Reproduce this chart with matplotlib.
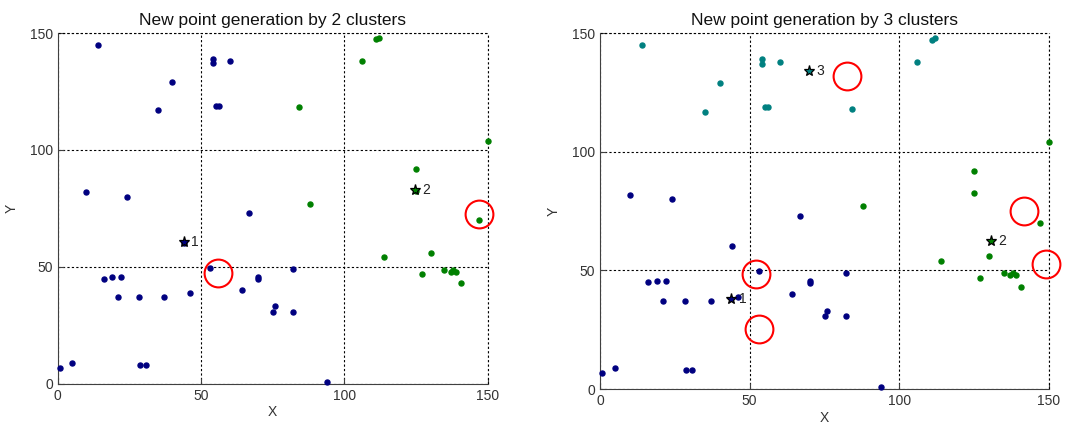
import numpy as np
from matplotlib import pyplot as plt

plt.rcParams['font.family'] = ['Liberation Sans', 'DejaVu Sans']

# point coordinates (same set in both panels)
px = [14, 40, 35, 54, 54, 60, 55.2, 56.2, 10, 24, 66.8,
      111, 112, 106, 84.2, 150, 125, 88, 125, 147,
      44, 53, 16, 19, 22, 21, 28.3, 37, 46.2, 64.3, 70, 70, 82.1,
      75.2, 75.8, 82.1, 0.8, 4.9, 28.8, 30.9, 93.9,
      113.8, 130.1, 127, 134.9, 137.1, 137.9, 139.1, 140.8]
py = [145, 129, 117, 139, 137, 138, 119, 119, 82, 80, 73,
      147.3, 148, 138, 118.2, 104, 92, 77, 82.5, 70,
      60.3, 49.7, 45, 45.7, 45.7, 37, 37, 37, 38.6, 40.1, 45.6, 44.9, 48.9,
      30.8, 33.1, 30.8, 6.7, 8.9, 8, 8, 0.9,
      54, 55.9, 47, 48.8, 47.9, 48.8, 47.9, 43.2]

# cluster labels
labels_k2 = [1]*11 + [2]*9 + [1]*21 + [2]*8
labels_k3 = [3]*8 + [1]*3 + [3]*4 + [2]*5 + [1]*21 + [2]*8

# cluster centres
cent_k2_x = [44, 124.5]
cent_k2_y = [60.5, 83]
cent_k3_x = [43.8, 130.5, 69.7]
cent_k3_y = [38.1, 62.6, 134.1]

# generated new points (red circles)
new_k2_x = [55.9, 147.1]
new_k2_y = [47.3, 72.7]
new_k3_x = [82.5, 141.5, 52, 53.2, 148.9]
new_k3_y = [132, 75, 48.6, 25.4, 52.6]

ticks = [0, 50, 100, 150]
colors = {1: '#000080', 2: '#008000', 3: '#008080'}

fig = plt.figure(figsize=(10.67, 4.25), dpi=100)
ax1 = fig.add_axes([0.0541, 0.0972, 0.403, 0.825])
ax2 = fig.add_axes([0.5623, 0.0847, 0.4208, 0.837])


def draw_panel(ax, labels, cx, cy, nx, ny, k):
    X = np.array(px)
    Y = np.array(py)
    lab = np.array(labels)
    for c in range(1, k+1):
        m = lab == c
        ax.plot(X[m], Y[m], 'o', color=colors[c], markersize=3.6, zorder=3, clip_on=False)
    for i in range(k):
        ax.plot(cx[i], cy[i], '*', markerfacecolor=colors[i+1], markeredgecolor='black',
                markersize=8, markeredgewidth=0.9, zorder=4)
        ax.text(cx[i] + 2.5, cy[i], str(i+1), fontsize=10, va='center', ha='left',
                color='#222222', zorder=4)
    ax.plot(nx, ny, 'o', markerfacecolor='none', markeredgecolor='red',
            markersize=20, markeredgewidth=1.5, clip_on=False, zorder=5)

    ax.set_xlim(ticks[0], ticks[-1])
    ax.set_ylim(ticks[0], ticks[-1])
    ax.set_xticks(ticks)
    ax.set_yticks(ticks)
    ax.grid(True, linestyle=(0, (2, 2)), color='black', linewidth=0.8)
    # outer grid lines at the limits (MATLAB style, box off)
    ax.axhline(ticks[-1], linestyle=(0, (2, 2)), color='black', linewidth=0.8, clip_on=False)
    ax.axvline(ticks[-1], linestyle=(0, (2, 2)), color='black', linewidth=0.8, clip_on=False)
    ax.spines['top'].set_visible(False)
    ax.spines['right'].set_visible(False)
    ax.spines['left'].set_color('#404040')
    ax.spines['bottom'].set_color('#404040')
    ax.tick_params(direction='in', length=4, labelsize=10, labelcolor='#333333', color='#404040')
    ax.set_xlabel('X', fontsize=10, color='#333333', labelpad=2)
    ax.set_ylabel('Y', fontsize=10, color='#333333', labelpad=8)
    ax.set_title('New point generation by %d clusters' % k, fontsize=12.5, pad=6, color='#111111')


draw_panel(ax1, labels_k2, cent_k2_x, cent_k2_y, new_k2_x, new_k2_y, 2)
draw_panel(ax2, labels_k3, cent_k3_x, cent_k3_y, new_k3_x, new_k3_y, 3)

fig.savefig('out.png', dpi=100)
